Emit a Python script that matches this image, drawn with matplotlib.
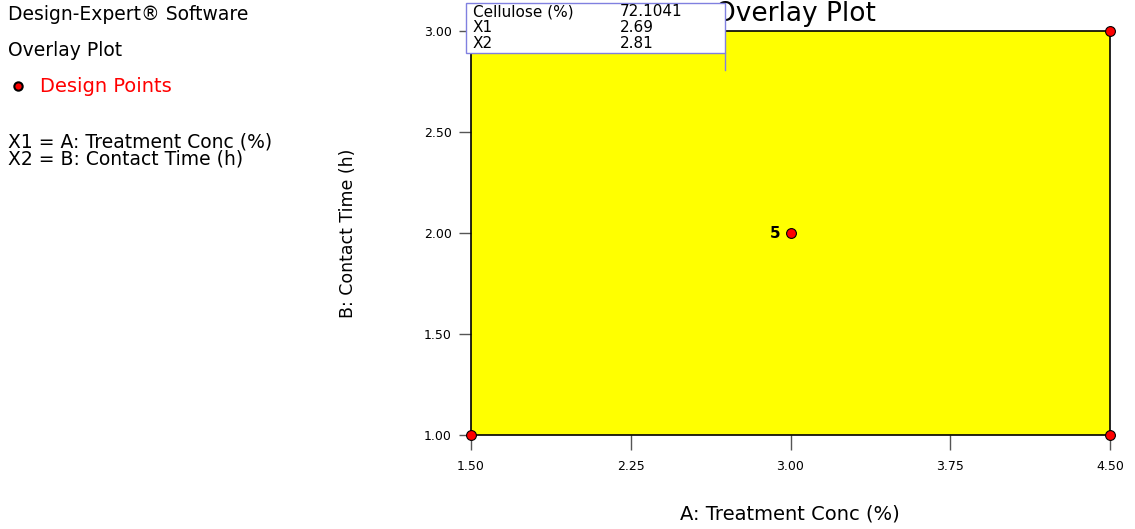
import matplotlib
matplotlib.use("Agg")
import matplotlib.pyplot as plt
from matplotlib.patches import Rectangle

plt.rcParams['font.family'] = ['DejaVu Sans']

# design space and design points
x_ticks = [1.50, 2.25, 3.00, 3.75, 4.50]
y_ticks = [1.00, 1.50, 2.00, 2.50, 3.00]
pts_a = [1.5, 4.5, 4.5, 1.5, 3.0]
pts_b = [1.0, 1.0, 3.0, 3.0, 2.0]
center_count = "5"
tip_rows = ["Cellulose (%)", "X1", "X2"]
tip_vals = ["72.1041", "2.69", "2.81"]

fig = plt.figure(figsize=(11.35, 5.29), dpi=100)
ax = fig.add_axes([471/1135, 1 - 435/529, 639/1135, 404/529])
ax.set_facecolor("#ffff00")
ax.set_xlim(1.5, 4.5)
ax.set_ylim(1.0, 3.0)
ax.set_xticks(x_ticks)
ax.set_yticks(y_ticks)
ax.set_xticklabels([f"{v:.2f}" for v in x_ticks], fontsize=9)
ax.set_yticklabels([f"{v:.2f}" for v in y_ticks], fontsize=9)
ax.tick_params(axis="x", direction="out", length=11, width=1, colors="#555555",
               labelcolor="black", pad=7)
ax.tick_params(axis="y", direction="out", length=9, width=1, colors="#555555",
               labelcolor="black", pad=5)
for s in ax.spines.values():
    s.set_linewidth(1.2)
    s.set_color("black")

ax.scatter(pts_a, pts_b, s=50, color="red", edgecolors="black", linewidths=0.8,
           zorder=5, clip_on=False)
ax.annotate(center_count, (3.0, 2.0), xytext=(-7, 0), textcoords="offset points",
            ha="right", va="center", fontsize=11, fontweight="bold")

ax.set_ylabel("B: Contact Time (h)", fontsize=12.5, labelpad=48)
fig.text(790/1135, 1 - 514/529, "A: Treatment Conc (%)", ha="center", va="center",
         fontsize=14)

fig.text(795/1135, 1 - 14/529, "Overlay Plot", ha="center", va="center", fontsize=19)

# hover readout box
fig.patches.append(Rectangle((466/1135, 1 - 53/529), 259/1135, 50/529,
                             transform=fig.transFigure, facecolor="white",
                             edgecolor="#8080e0", linewidth=1, zorder=10))
fig.lines.append(plt.Line2D([725/1135, 725/1135], [1 - 53/529, 1 - 70/529],
                            transform=fig.transFigure, color="#8080e0", lw=1, zorder=10))
for i, (r, v) in enumerate(zip(tip_rows, tip_vals)):
    y = 1 - (12 + i * 15.5) / 529
    fig.text(473/1135, y, r, fontsize=11, va="center", zorder=11)
    fig.text(620/1135, y, v, fontsize=11, va="center", zorder=11)

# left-hand info panel
fig.text(8/1135, 1 - 15/529, "Design-Expert\u00ae Software", fontsize=13.5, va="center")
fig.text(8/1135, 1 - 50/529, "Overlay Plot", fontsize=13.5, va="center")
fig.lines.append(plt.Line2D([18/1135], [1 - 86/529], marker="o", ms=6, color="red",
                            mec="black", mew=1.5, transform=fig.transFigure))
fig.text(40/1135, 1 - 86/529, "Design Points", fontsize=14, va="center", color="red")
fig.text(8/1135, 1 - 142/529, "X1 = A: Treatment Conc (%)", fontsize=13.5, va="center")
fig.text(8/1135, 1 - 159/529, "X2 = B: Contact Time (h)", fontsize=13.5, va="center")

fig.savefig("out.png", dpi=100)
